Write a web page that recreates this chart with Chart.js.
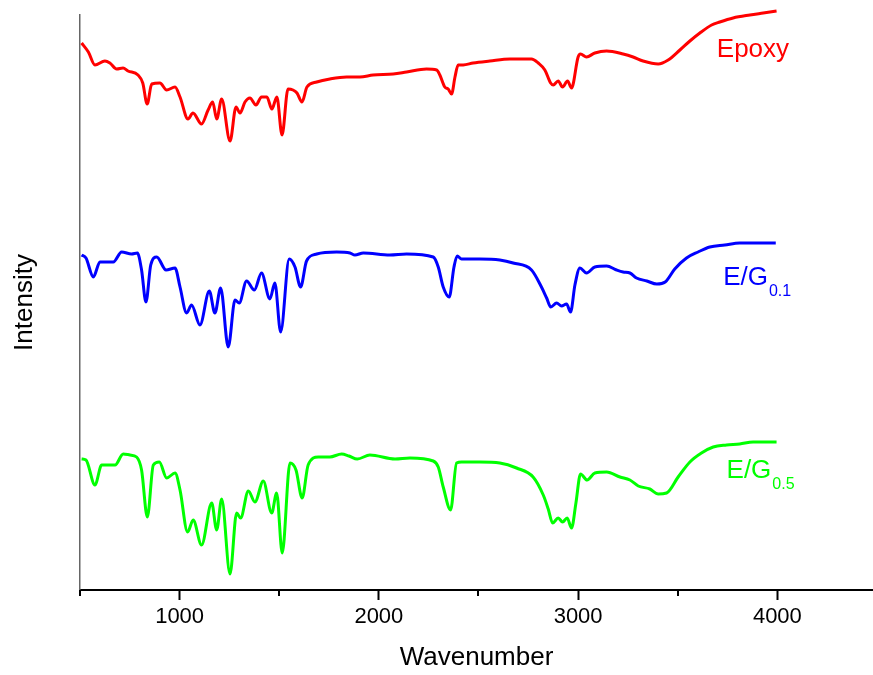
<!DOCTYPE html>
<html>
<head>
<meta charset="utf-8">
<script src="https://cdn.jsdelivr.net/npm/chart.js@4"></script>
<style>
  body { margin: 0; background: #fff; }
  #wrap { width: 873px; height: 675px; }
</style>
</head>
<body>
<div id="wrap"><canvas id="ftir"></canvas></div>
<script>
// FTIR spectra, offset vertically (arbitrary intensity units)
const epoxyWn  = [508,542,575,625,650,684,716,741,791,815,837,860,901,935,977,1002,1042,1067,1110,1143,1166,1186,1211,1253,1283,1303,1328,1353,1383,1411,1438,1463,1488,1514,1544,1569,1589,1614,1639,1688,1754,1838,1905,1971,2072,2139,2239,2290,2306,2331,2348,2365,2382,2398,2423,2473,2557,2658,2766,2800,2833,2862,2875,2900,2922,2947,2967,3000,3012,3042,3084,3143,3226,3276,3326,3402,3452,3511,3561,3611,3670,3711,3778,3862,3929,3996];
const epoxyVal = [547,538,525,529,527,521,522,519,515,507,486,506,507,500,503,493,471,477,466,480,488,471,491,449,483,477,488,492,485,493,493,481,493,455,501,500,497,488,503,508,511,513,513,515,516,518,521,520,515,503,501,496,513,525,525,527,529,531,531,527,520,507,505,509,503,509,502,533,536,533,537,539,536,533,529,526,530,540,549,557,565,568,572,575,577,579];

const eg01Wn  = [508,530,567,600,667,709,759,788,809,831,855,885,932,977,1002,1035,1060,1102,1149,1177,1206,1244,1278,1299,1336,1375,1411,1453,1478,1507,1550,1579,1607,1637,1688,1788,1855,1880,1922,2055,2139,2273,2298,2323,2353,2377,2393,2415,2507,2607,2674,2766,2816,2842,2863,2892,2917,2942,2962,2984,3009,3042,3084,3143,3193,3226,3260,3293,3345,3395,3437,3485,3544,3602,3661,3736,3811,3895,3992];
const eg01Val = [335,332,313,328,328,338,336,337,320,288,325,333,320,322,303,277,285,265,299,277,302,243,290,287,309,300,317,291,307,258,331,323,303,329,336,338,337,335,337,335,336,333,323,303,293,323,334,331,331,330,327,320,303,292,283,287,284,286,278,305,322,317,323,324,320,318,317,312,309,306,308,321,332,338,343,345,347,347,347];

const eg05Wn  = [508,530,575,609,676,717,751,784,809,838,868,898,935,977,1002,1040,1068,1110,1161,1186,1211,1253,1286,1306,1345,1378,1420,1462,1487,1515,1554,1584,1615,1645,1696,1754,1813,1850,1892,1955,2081,2156,2273,2298,2323,2360,2390,2415,2507,2607,2691,2774,2825,2850,2872,2900,2922,2945,2967,2989,3012,3045,3084,3143,3210,3260,3302,3360,3402,3444,3502,3561,3619,3678,3745,3811,3878,3996];
const eg05Val = [131,130,105,125,125,136,135,133,120,73,125,128,112,117,100,58,70,45,87,60,91,16,77,72,99,88,109,77,97,37,127,120,92,125,133,133,136,134,131,135,131,132,129,123,103,80,127,128,128,127,122,113,95,81,67,72,68,72,62,87,116,110,117,118,113,110,104,101,96,97,113,128,137,143,145,146,148,148];

const majorTicks = [1000, 2000, 3000, 4000];
const minorTicks = [500, 1500, 2500, 3500];

const seriesNames = ['Epoxy', 'E/G', 'E/G'];
const seriesSubs  = ['', '0.1', '0.5'];
const seriesColors = ['#ff0000', '#0000ff', '#00ff00'];

// where the series names sit (data coords: wavenumber, intensity of baseline)
const labelAnchors = [
  { x: 3696, y: 533 },
  { x: 3728, y: 305 },
  { x: 3745, y: 112 }
];

const FONT = "'Liberation Sans', Arial, sans-serif";

function toPoints(xs, ys) {
  return xs.map((x, i) => ({ x: x, y: ys[i] }));
}

// minor ticks + series names drawn on top
const extrasPlugin = {
  id: 'extras',
  afterDraw(chart) {
    const ctx = chart.ctx;
    const xs = chart.scales.x;
    const ys = chart.scales.y;
    ctx.save();
    ctx.strokeStyle = '#000';
    ctx.lineWidth = 2;
    minorTicks.forEach(v => {
      const px = Math.round(xs.getPixelForValue(v));
      ctx.beginPath();
      ctx.moveTo(px, xs.top);
      ctx.lineTo(px, xs.top + 6);
      ctx.stroke();
    });

    ctx.textBaseline = 'alphabetic';
    ctx.textAlign = 'left';
    labelAnchors.forEach((a, i) => {
      const px = xs.getPixelForValue(a.x);
      const py = ys.getPixelForValue(a.y);
      ctx.fillStyle = seriesColors[i];
      ctx.font = '26px ' + FONT;
      ctx.fillText(seriesNames[i], px, py);
      if (seriesSubs[i]) {
        const w = ctx.measureText(seriesNames[i]).width;
        ctx.font = '16px ' + FONT;
        ctx.fillText(seriesSubs[i], px + w + 1, py + 11);
      }
    });
    ctx.restore();
  }
};

const ctx = document.getElementById('ftir').getContext('2d');

new Chart(ctx, {
  type: 'line',
  data: {
    datasets: [
      { label: 'Epoxy', data: toPoints(epoxyWn, epoxyVal), borderColor: seriesColors[0], clip: false },
      { label: 'E/G0.1', data: toPoints(eg01Wn, eg01Val), borderColor: seriesColors[1], clip: false },
      { label: 'E/G0.5', data: toPoints(eg05Wn, eg05Val), borderColor: seriesColors[2], clip: false }
    ]
  },
  options: {
    responsive: true,
    maintainAspectRatio: false,
    animation: false,
    layout: { padding: { top: 15, right: 0, bottom: 0, left: 0 } },
    elements: {
      point: { radius: 0 },
      line: { borderWidth: 3, cubicInterpolationMode: 'monotone', fill: false }
    },
    plugins: {
      legend: { display: false },
      tooltip: { enabled: false }
    },
    scales: {
      x: {
        type: 'linear',
        position: 'bottom',
        min: 500,
        max: 4480,
        afterBuildTicks: s => { s.ticks = majorTicks.map(v => ({ value: v })); },
        afterFit: s => { s.height = 85; },
        ticks: {
          color: '#000',
          font: { family: FONT, size: 22 },
          padding: 4,
          maxRotation: 0,
          callback: v => String(v)
        },
        grid: { display: true, drawOnChartArea: false, drawTicks: true, tickLength: 10, tickWidth: 2, tickColor: '#000' },
        border: { display: true, color: '#000', width: 2 },
        title: {
          display: true,
          text: 'Wavenumber',
          color: '#000',
          font: { family: FONT, size: 26 },
          padding: { top: 0, bottom: 2 }
        }
      },
      y: {
        min: 0,
        max: 575,
        afterFit: s => { s.width = 80; },
        ticks: { display: false },
        grid: { display: false },
        border: { display: true, color: '#666', width: 1.5 },
        title: {
          display: true,
          text: 'Intensity',
          color: '#000',
          font: { family: FONT, size: 26 },
          padding: { top: 9, bottom: 0 }
        }
      }
    }
  },
  plugins: [extrasPlugin]
});
</script>
</body>
</html>
